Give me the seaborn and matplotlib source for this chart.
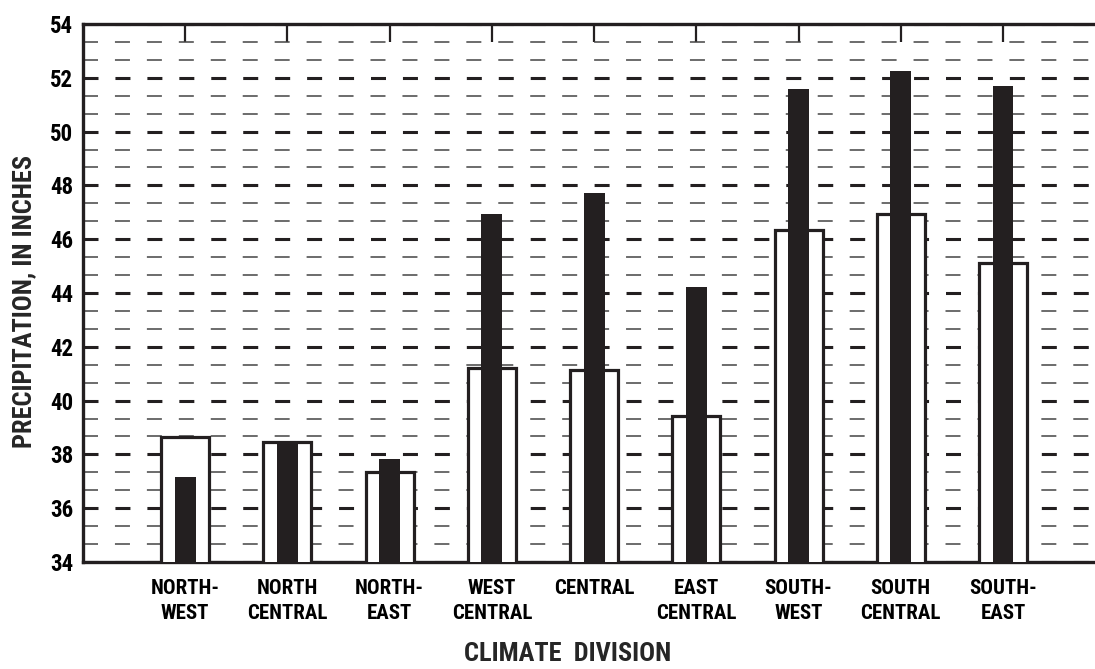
import numpy as np
import pandas as pd
import matplotlib
matplotlib.use("Agg")
import matplotlib.pyplot as plt
from matplotlib.ticker import MultipleLocator, AutoMinorLocator
import seaborn as sns

# data
divisions = ["NORTH-\nWEST", "NORTH\nCENTRAL", "NORTH-\nEAST", "WEST\nCENTRAL", "CENTRAL",
             "EAST\nCENTRAL", "SOUTH-\nWEST", "SOUTH\nCENTRAL", "SOUTH-\nEAST"]
white_bars = [38.66, 38.47, 37.33, 41.22, 41.15, 39.42, 46.34, 46.93, 45.12]
black_bars = [37.15, 38.47, 37.82, 46.94, 47.71, 44.21, 51.58, 52.25, 51.70]

sns.set_style("white")
plt.rcParams['font.family'] = ['Roboto Condensed', 'DejaVu Sans']
plt.rcParams['font.weight'] = 'bold'
plt.rcParams['lines.scale_dashes'] = False

fig = plt.figure(figsize=(10.95, 6.69), dpi=100)
ax = fig.add_axes([83/1095, 1 - 562/669, 1 - 83/1095, 538/669])

sns.barplot(x=divisions, y=white_bars, order=divisions, color="white", saturation=1,
            edgecolor="#231f20", linewidth=2.3, width=0.47, ax=ax, zorder=3)
sns.barplot(x=divisions, y=black_bars, order=divisions, color="#231f20", saturation=1,
            linewidth=0, width=0.205, ax=ax, zorder=4)

ax.set_ylim(34, 54)
ax.set_xlim(-1.0, 8.9)
ax.yaxis.set_major_locator(MultipleLocator(2))
ax.yaxis.set_minor_locator(AutoMinorLocator(3))

# dashed grid, heavy at the labelled values
ax.set_axisbelow(True)
ax.grid(axis='y', which='major', color='#231f20', linewidth=2.2, linestyle=(0, (10.8, 12.2)))
ax.grid(axis='y', which='minor', color='#444444', linewidth=1.1, linestyle=(0, (10.8, 12.2)))
ax.grid(axis='x', visible=False)

for side in ['left', 'top', 'bottom']:
    ax.spines[side].set_linewidth(2.4)
    ax.spines[side].set_color('#231f20')
ax.spines['right'].set_visible(False)

ax.tick_params(axis='y', which='major', direction='in', length=11.5, width=2.2,
               color='#231f20', pad=7, labelsize=16.5)
ax.tick_params(axis='y', which='minor', direction='in', length=7, width=1.6, color='#231f20')
ax.tick_params(axis='x', which='major', direction='in', bottom=False, top=True,
               labelbottom=True, labeltop=False, length=13, width=1.6,
               color='#231f20', pad=12, labelsize=15)

for lab in ax.get_xticklabels() + ax.get_yticklabels():
    lab.set_fontweight('bold')
    lab.set_color('black')
for lab in ax.get_xticklabels():
    lab.set_linespacing(1.45)

ax.set_xlabel("CLIMATE  DIVISION", fontsize=19, fontweight='bold')
ax.set_ylabel("PRECIPITATION, IN INCHES", fontsize=19, fontweight='bold')
ax.xaxis.set_label_coords(0.479, -0.148)
ax.yaxis.set_label_coords(-0.046, 0.485)

fig.savefig("out.png", dpi=100)
